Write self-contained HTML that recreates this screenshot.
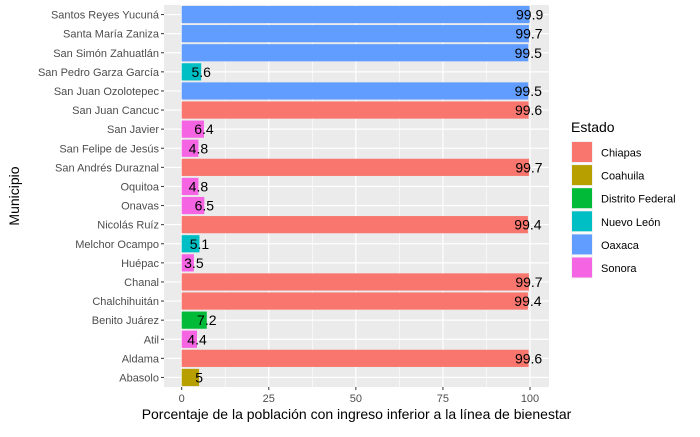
<!DOCTYPE html>
<html><head><meta charset="utf-8"><style>
body{margin:0;background:#fff;font-family:"Liberation Sans",Arial,sans-serif}
</style></head><body>
<svg id="c" width="700" height="432"></svg>
<script>
const categories=["Santos Reyes Yucuná","Santa María Zaniza","San Simón Zahuatlán","San Pedro Garza García","San Juan Ozolotepec","San Juan Cancuc","San Javier","San Felipe de Jesús","San Andrés Duraznal","Oquitoa","Onavas","Nicolás Ruíz","Melchor Ocampo","Huépac","Chanal","Chalchihuitán","Benito Juárez","Atil","Aldama","Abasolo"];
const values=[99.9,99.7,99.5,5.6,99.5,99.6,6.4,4.8,99.7,4.8,6.5,99.4,5.1,3.5,99.7,99.4,7.2,4.4,99.6,5];
const labels=["99.9","99.7","99.5","5.6","99.5","99.6","6.4","4.8","99.7","4.8","6.5","99.4","5.1","3.5","99.7","99.4","7.2","4.4","99.6","5"];
const states=["Oaxaca","Oaxaca","Oaxaca","Nuevo León","Oaxaca","Chiapas","Sonora","Sonora","Chiapas","Sonora","Sonora","Chiapas","Nuevo León","Sonora","Chiapas","Chiapas","Distrito Federal","Sonora","Chiapas","Coahuila"];
const legendStates=["Chiapas","Coahuila","Distrito Federal","Nuevo León","Oaxaca","Sonora"];
const legendColors=["#F8766D","#B79F00","#00BA38","#00BFC4","#619CFF","#F564E3"];
const xTicks=[0,25,50,75,100];
const NS="http://www.w3.org/2000/svg";
const svg=document.getElementById('c');
function mk(t,a,p){const e=document.createElementNS(NS,t);for(const k in a)e.setAttribute(k,a[k]);(p||svg).appendChild(e);return e;}
const L=164,R=549,T=5,B=387;
const x=v=>181.7+v*(530-181.7)/100;
const step=(B-T)/categories.length;
const y=i=>T+step*(i+0.5);
const colorOf=s=>legendColors[legendStates.indexOf(s)];
let e=mk('rect',{x:L,y:T,width:R-L,height:B-T,fill:'#EBEBEB'});

for(let i=0;i<xTicks.length-1;i++){const m=(xTicks[i]+xTicks[i+1])/2;mk('line',{x1:x(m),x2:x(m),y1:T,y2:B,stroke:'#fff','stroke-width':0.6});}
xTicks.forEach(t=>{mk('line',{x1:x(t),x2:x(t),y1:T,y2:B,stroke:'#fff','stroke-width':1.2});
 mk('line',{x1:x(t),x2:x(t),y1:B,y2:B+3,stroke:'#333'});
 const tx=mk('text',{x:x(t),y:B+15,'text-anchor':'middle','font-size':11,fill:'#4D4D4D'});tx.textContent=t;
 });
categories.forEach((c,i)=>{mk('line',{x1:L,x2:R,y1:y(i),y2:y(i),stroke:'#fff','stroke-width':1.2});});
categories.forEach((c,i)=>{
 const h=step*0.9;
 const b=mk('rect',{x:x(0),y:y(i)-h/2,width:x(values[i])-x(0),height:h,fill:colorOf(states[i])});
 
 const v=mk('text',{x:x(values[i]),y:y(i)+5,'text-anchor':'middle','font-size':14,fill:'#000'});v.textContent=labels[i];
 
 mk('line',{x1:L-3,x2:L,y1:y(i),y2:y(i),stroke:'#333'});
 const t=mk('text',{x:L-5,y:y(i)+4,'text-anchor':'end','font-size':11,fill:'#4D4D4D'});t.textContent=c;
 
});
let xt=mk('text',{x:(L+R)/2,y:419,'text-anchor':'middle','font-size':14,fill:'#000'});xt.textContent='Porcentaje de la población con ingreso inferior a la línea de bienestar';

let yt=mk('text',{x:19,y:(T+B)/2,'text-anchor':'middle','font-size':14,fill:'#000',transform:`rotate(-90 19 ${(T+B)/2})`});yt.textContent='Municipio';

let lt=mk('text',{x:571,y:132,'font-size':14,fill:'#000'});lt.textContent='Estado';

legendStates.forEach((s,i)=>{
 const g=mk('g',{});
 const yy=141+i*23.1;
 mk('rect',{x:571,y:yy,width:22,height:22,fill:'#F2F2F2'},g);
 mk('rect',{x:572,y:yy+1,width:20,height:20,fill:legendColors[i]},g);
 const t=mk('text',{x:601,y:yy+15.5,'font-size':11,fill:'#000'},g);t.textContent=s;
});
</script>
</body></html>
